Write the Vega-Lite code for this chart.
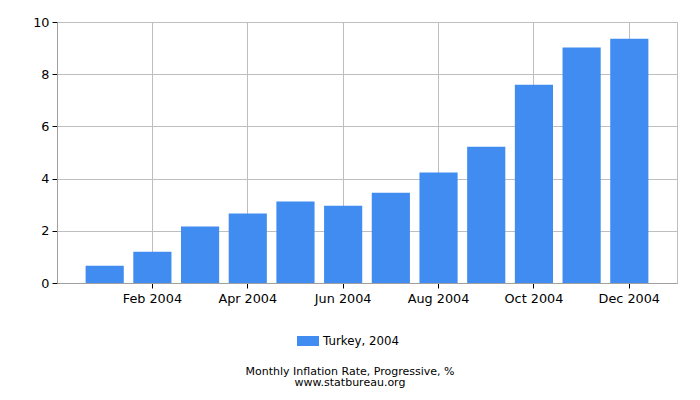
{
  "$schema": "https://vega.github.io/schema/vega-lite/v6.json",
  "width": 620,
  "height": 261,
  "autosize": "none",
  "padding": {"left": 57, "top": 22, "right": 23, "bottom": 117},
  "background": "white",
  "title": {
    "text": "Monthly Inflation Rate, Progressive, %",
    "subtitle": "www.statbureau.org",
    "orient": "bottom",
    "anchor": "middle",
    "dx": -17,
    "offset": 18,
    "font": "DejaVu Sans",
    "fontSize": 11,
    "fontWeight": "normal",
    "color": "#000000",
    "subtitleFont": "DejaVu Sans",
    "subtitleFontSize": 11,
    "subtitleColor": "#000000",
    "subtitlePadding": 0
  },
  "data": {
    "values": [
      {"month": "Jan 2004", "rate": 0.66, "series": "Turkey, 2004"},
      {"month": "Feb 2004", "rate": 1.20, "series": "Turkey, 2004"},
      {"month": "Mar 2004", "rate": 2.16, "series": "Turkey, 2004"},
      {"month": "Apr 2004", "rate": 2.66, "series": "Turkey, 2004"},
      {"month": "May 2004", "rate": 3.12, "series": "Turkey, 2004"},
      {"month": "Jun 2004", "rate": 2.96, "series": "Turkey, 2004"},
      {"month": "Jul 2004", "rate": 3.46, "series": "Turkey, 2004"},
      {"month": "Aug 2004", "rate": 4.23, "series": "Turkey, 2004"},
      {"month": "Sep 2004", "rate": 5.22, "series": "Turkey, 2004"},
      {"month": "Oct 2004", "rate": 7.60, "series": "Turkey, 2004"},
      {"month": "Nov 2004", "rate": 9.02, "series": "Turkey, 2004"},
      {"month": "Dec 2004", "rate": 9.36, "series": "Turkey, 2004"}
    ]
  },
  "mark": {"type": "bar"},
  "encoding": {
    "x": {
      "field": "month",
      "type": "ordinal",
      "sort": null,
      "scale": {"paddingInner": 0.2, "paddingOuter": 0.6},
      "axis": {
        "title": null,
        "values": ["Feb 2004", "Apr 2004", "Jun 2004", "Aug 2004", "Oct 2004", "Dec 2004"],
        "labelAngle": 0,
        "grid": true,
        "bandPosition": 0.5,
        "gridColor": "#BEBEBE",
        "domainColor": "#A0A0A0",
        "tickColor": "#000000",
        "tickSize": 5,
        "labelFont": "DejaVu Sans",
        "labelFontSize": 12.8,
        "labelColor": "#000000",
        "labelPadding": 4
      }
    },
    "y": {
      "field": "rate",
      "type": "quantitative",
      "scale": {"domain": [0, 10]},
      "axis": {
        "title": null,
        "values": [0, 2, 4, 6, 8, 10],
        "grid": true,
        "gridColor": "#BEBEBE",
        "domainColor": "#A0A0A0",
        "tickColor": "#000000",
        "tickSize": 5,
        "labelFont": "DejaVu Sans",
        "labelFontSize": 12.8,
        "labelColor": "#000000",
        "labelPadding": 3
      }
    },
    "color": {
      "field": "series",
      "type": "nominal",
      "scale": {"range": ["#418CF0"]},
      "legend": {
        "title": null,
        "orient": "none",
        "legendX": 240,
        "legendY": 308,
        "symbolType": "M-1,-0.4545H1V0.4545H-1Z",
        "symbolSize": 484,
        "symbolStrokeWidth": 0,
        "symbolOpacity": 1,
        "labelFont": "DejaVu Sans",
        "labelFontSize": 11.8,
        "labelColor": "#000000",
        "labelOffset": 4
      }
    }
  },
  "config": {
    "view": {"stroke": "#BEBEBE"}
  }
}
